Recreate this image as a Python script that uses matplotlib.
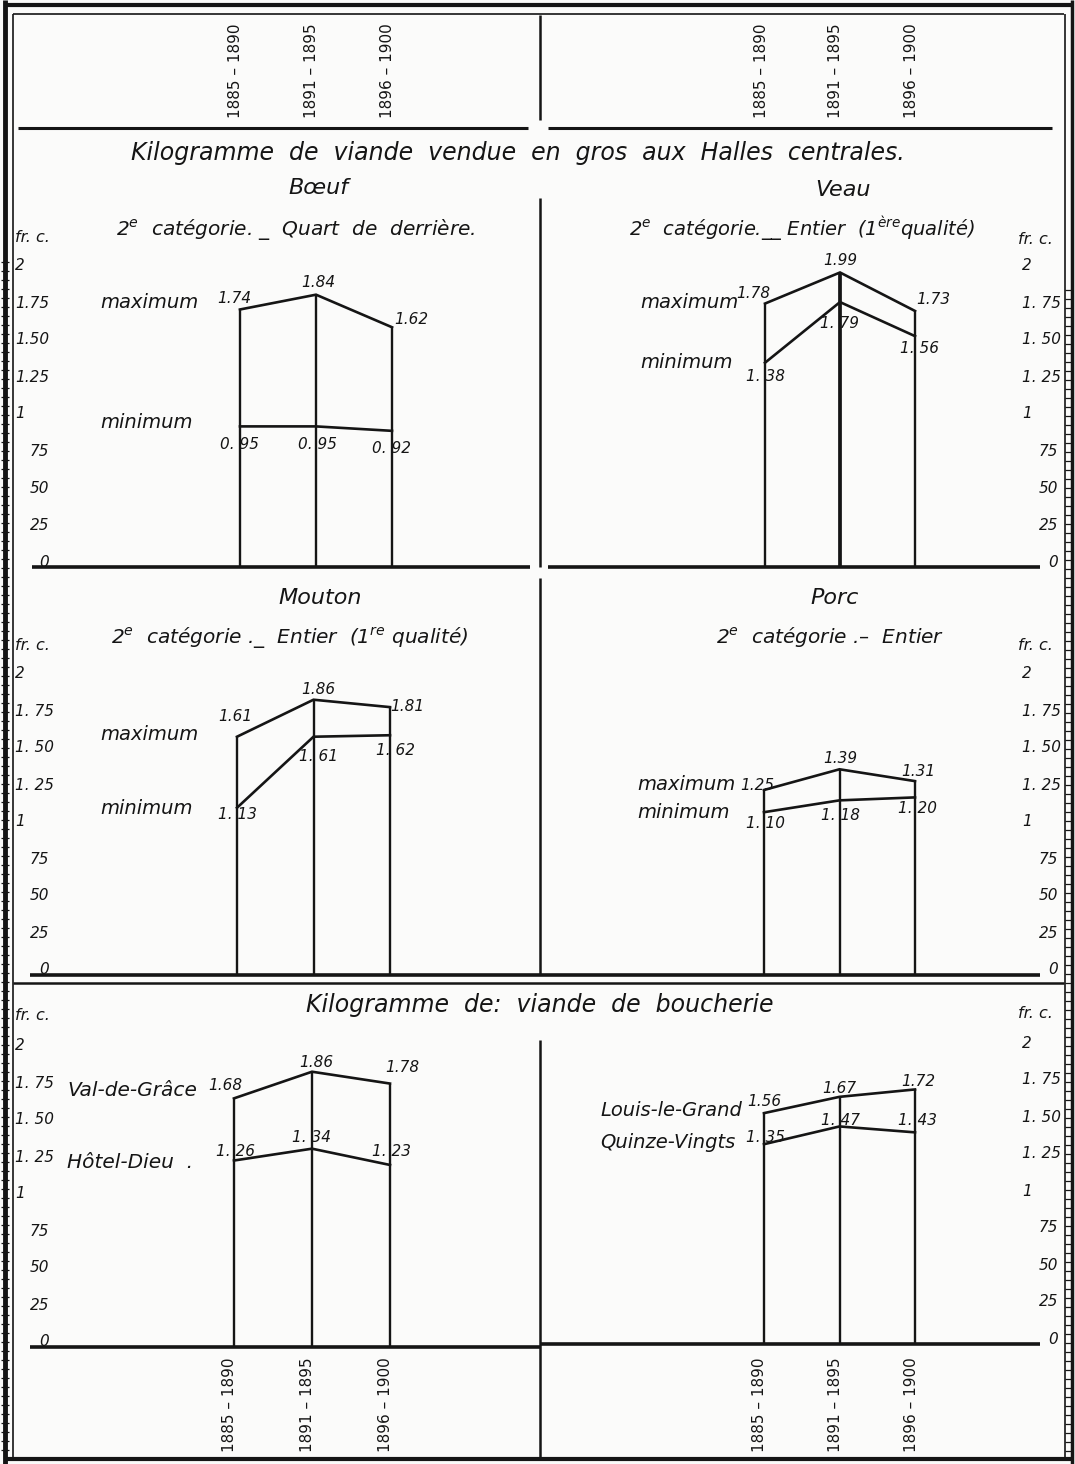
import matplotlib
matplotlib.use("Agg")
import matplotlib.pyplot as plt
import matplotlib.transforms as mtransforms

# ---- data (fr. per kilogramme) ----
periods = ["1885 – 1890", "1891 – 1895", "1896 – 1900"]

boeuf_max = [1.74, 1.84, 1.62]
boeuf_min = [0.95, 0.95, 0.92]
veau_max = [1.78, 1.99, 1.73]
veau_min = [1.38, 1.79, 1.56]
mouton_max = [1.61, 1.86, 1.81]
mouton_min = [1.13, 1.61, 1.62]
porc_max = [1.25, 1.39, 1.31]
porc_min = [1.10, 1.18, 1.20]
val_de_grace = [1.68, 1.86, 1.78]
hotel_dieu = [1.26, 1.34, 1.23]
louis_le_grand = [1.56, 1.67, 1.72]
quinze_vingts = [1.35, 1.47, 1.43]

tick_values = [0, 0.25, 0.5, 0.75, 1, 1.25, 1.5, 1.75, 2]
tick_labels_a = ["0", "25", "50", "75", "1", "1.25", "1.50", "1.75", "2"]
tick_labels_b = ["0", "25", "50", "75", "1", "1. 25", "1. 50", "1. 75", "2"]

W, H = 1075, 1464
INK = "#151515"
PX_PER_FR = 148.0
TOP_FR = 2.2

fig = plt.figure(figsize=(W / 100, H / 100), dpi=100, facecolor="#fbfbfa")
bg = fig.add_axes([0, 0, 1, 1], zorder=0)
bg.set_xlim(0, W)
bg.set_ylim(H, 0)
bg.axis("off")


def fmt(v, spaced):
    cents = int(round(v * 100)) % 100
    whole = int(round(v * 100)) // 100
    return f"{whole}. {cents:02d}" if spaced else f"{whole}.{cents:02d}"


def panel(p0, sp, yb):
    ax = fig.add_axes([(p0 - sp) / W, 1 - yb / H, 4 * sp / W, TOP_FR * PX_PER_FR / H],
                      zorder=2)
    ax.set_xlim(-1, 3)
    ax.set_ylim(0, TOP_FR)
    ax.patch.set_alpha(0)
    ax.axis("off")
    return ax


def draw_series(ax, top, bottom, top_fmt, bot_fmt, top_off, bot_off, lw_mid=1.7):
    xs = range(len(top))
    heights = [max(a, b) for a, b in zip(top, bottom)]
    for i, h in zip(xs, heights):
        ax.vlines(i, 0, h, color=INK, lw=lw_mid if i == 1 else 1.7)
    ax.plot(xs, top, color=INK, lw=1.9, solid_joinstyle="miter")
    ax.plot(xs, bottom, color=INK, lw=1.9, solid_joinstyle="miter")
    for i, v, (dx, dy) in zip(xs, top, top_off):
        ax.annotate(fmt(v, top_fmt), (i, v), xytext=(dx, -dy), textcoords="offset pixels",
                    ha="center", va="center", fontsize=11, style="italic", color=INK)
    for i, v, (dx, dy) in zip(xs, bottom, bot_off):
        ax.annotate(fmt(v, bot_fmt), (i, v), xytext=(dx, -dy), textcoords="offset pixels",
                    ha="center", va="center", fontsize=11, style="italic", color=INK)


def ticks(ax, labels, x_dec, x_int):
    tr = mtransforms.blended_transform_factory(bg.transData, ax.transData)
    tr = mtransforms.offset_copy(tr, fig=fig, y=5, units="dots")
    for v, lab in zip(tick_values, labels):
        if "." in lab or lab in ("1", "2"):
            ax.text(x_dec, v, lab, transform=tr, ha="left", va="center",
                    fontsize=11, style="italic", color=INK)
        else:
            ax.text(x_int, v, lab, transform=tr, ha="right", va="center",
                    fontsize=11, style="italic", color=INK)


def years(ax, y, va):
    tr = mtransforms.blended_transform_factory(ax.transData, bg.transData)
    tr = mtransforms.offset_copy(tr, fig=fig, x=-4, units="dots")
    for i, p in enumerate(periods):
        ax.text(i, y, p, transform=tr, rotation=90, ha="center", va=va,
                fontsize=11, color=INK)


def t(x, y, s, size=14, ha="left", **kw):
    bg.text(x, y, s, fontsize=size, ha=ha, va="center", style="italic", color=INK, **kw)


# ---- panels ----
ax_tl = panel(240, 76, 567)
draw_series(ax_tl, boeuf_max, boeuf_min, False, True,
            [(-6, -11), (2, -12), (19, -8)], [(0, 18), (1, 18), (0, 18)])
ticks(ax_tl, tick_labels_a, 15, 49)

ax_tr = panel(765, 75, 567)
draw_series(ax_tr, veau_max, veau_min, False, True,
            [(-12, -10), (0, -12), (18, -11)], [(0, 14), (0, 21), (4, 12)], lw_mid=2.7)
ticks(ax_tr, tick_labels_b, 1022, 1058)

ax_ml = panel(237, 76.5, 975)
draw_series(ax_ml, mouton_max, mouton_min, False, True,
            [(-2, -20), (5, -10), (17, -1)], [(0, 7), (5, 20), (5, 15)])
ticks(ax_ml, tick_labels_b, 15, 49)

ax_mr = panel(764, 75.5, 975)
draw_series(ax_mr, porc_max, porc_min, False, True,
            [(-7, -5), (1, -11), (3, -10)], [(2, 11), (1, 15), (3, 11)])
ticks(ax_mr, tick_labels_b, 1022, 1058)

ax_bl = panel(234, 78, 1347)
draw_series(ax_bl, val_de_grace, hotel_dieu, False, True,
            [(-9, -13), (4, -9), (12, -16)], [(2, -9), (0, -11), (1, -13)])
ticks(ax_bl, tick_labels_b, 15, 49)

ax_br = panel(764, 75.5, 1344)
draw_series(ax_br, louis_le_grand, quinze_vingts, False, True,
            [(0, -12), (0, -8), (3, -8)], [(2, -7), (1, -6), (2, -12)])
ticks(ax_br, tick_labels_b, 1022, 1058)

# period labels (header and foot)
years(ax_tl, 118, "bottom")
years(ax_tr, 118, "bottom")
years(ax_bl, 1357, "top")
years(ax_br, 1357, "top")

# ---- titles and legends ----
t(518, 153, "Kilogramme  de  viande  vendue  en  gros  aux  Halles  centrales.", 17, "center")
t(540, 1005, "Kilogramme  de:  viande  de  boucherie", 17, "center")

t(318, 188, "Bœuf", 16, "center")
t(296, 229, "2$^e$  catégorie. _  Quart  de  derrière.", 14.5, "center")
t(843, 190, "Veau", 16, "center")
t(802, 229, "2$^e$  catégorie.__ Entier  (1$^{ère}$qualité)", 14, "center")
t(320, 598, "Mouton", 16, "center")
t(290, 637, "2$^e$  catégorie ._  Entier  (1$^{re}$ qualité)", 14.5, "center")
t(835, 598, "Porc", 16, "center")
t(830, 637, "2$^e$  catégorie .–  Entier", 14.5, "center")

for (x, y) in [(15, 238), (1018, 240), (15, 645), (1018, 645), (15, 1015), (1018, 1013)]:
    t(x, y, "fr. c.", 11.5)

t(100, 303, "maximum")
t(100, 422, "minimum")
t(640, 303, "maximum")
t(640, 362, "minimum")
t(100, 735, "maximum")
t(100, 808, "minimum")
t(637, 785, "maximum")
t(637, 813, "minimum")
t(67, 1091, "Val-de-Grâce", 14.5)
t(67, 1163, "Hôtel-Dieu  .", 14.5)
t(600, 1110, "Louis-le-Grand", 14)
t(600, 1142, "Quinze-Vingts", 14)

# ---- frame, dividers and baselines ----
L = dict(color=INK, solid_capstyle="butt")
bg.plot([4, 1072], [5, 5], lw=3, **L)
bg.plot([13, 1064], [14, 14], lw=1.2, **L)
bg.plot([4, 1072], [1459, 1459], lw=3, **L)
bg.plot([5, 5], [0, H], lw=3.5, **L)
bg.plot([13, 13], [14, 1459], lw=1.2, **L)
bg.plot([1072, 1072], [0, H], lw=2.5, **L)
bg.plot([1065, 1065], [14, 1459], lw=1.2, **L)
# ruler ladders at the edges
for y in range(262, 1455, 9):
    bg.plot([1, 9], [y, y], lw=0.9, **L)
for y in range(290, 1455, 9):
    bg.plot([1065, 1071], [y, y], lw=0.9, **L)

bg.plot([18, 528], [128, 128], lw=2.2, **L)
bg.plot([548, 1052], [128, 128], lw=2.2, **L)
for y0, y1 in [(15, 120), (198, 567), (578, 975), (1040, 1459)]:
    bg.plot([540, 540], [y0, y1], lw=1.8, **L)

bg.plot([32, 530], [567, 567], lw=2.6, **L)
bg.plot([548, 1040], [567, 567], lw=2.6, **L)
bg.plot([30, 1040], [975, 975], lw=2.6, **L)
bg.plot([13, 1064], [983, 983], lw=1.8, **L)
bg.plot([30, 540], [1347, 1347], lw=2.6, **L)
bg.plot([540, 1040], [1344, 1344], lw=2.6, **L)

fig.savefig("out.png", dpi=100, facecolor=fig.get_facecolor())
